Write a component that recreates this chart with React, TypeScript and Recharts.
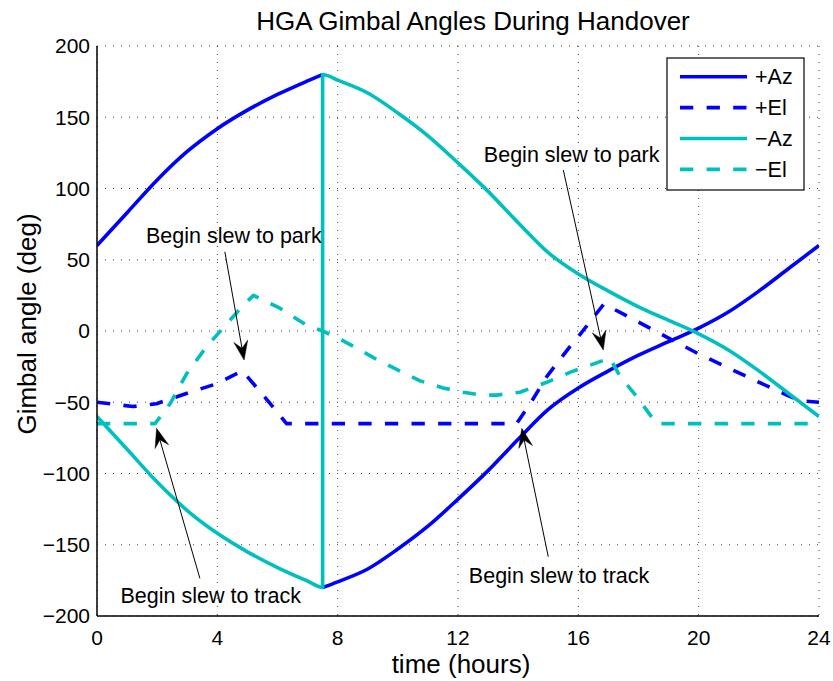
import React from 'react';
import { LineChart, Line, XAxis, YAxis, CartesianGrid, ReferenceLine, ReferenceDot } from 'recharts';

// ---- data (hours, degrees) ----
const azPlusHours = [0, 1, 2, 3, 4, 5, 6, 7, 7.5, 7.5, 7.5, 8, 9, 10, 11, 12, 13, 14, 15, 16, 17, 18, 19, 20, 21, 22, 23, 24];
const azPlusDeg = [60, 83, 106, 126, 142, 155, 166, 175.5, 180, null, -180, -176, -167, -153, -137, -118, -98, -76, -55, -40, -28, -17, -7.5, 2, 13.5, 28, 44, 60];

const elPlusHours = [0, 1.2, 1.98, 3.09, 3.98, 4.83, 5.2, 5.8, 6.3, 13.95, 14.4, 14.95, 15.72, 16.0, 16.85, 18.38, 19.99, 21.6, 22.93, 23.4, 24];
const elPlusDeg = [-50, -53, -51, -43, -37, -28, -37, -52, -65, -65, -51, -32, -11, -4, 19, 2, -16, -32, -45, -49, -50];

const azMinusHours = [0, 1, 2, 3, 4, 5, 6, 7, 7.5, 7.5, 8, 9, 10, 11, 12, 13, 14, 15, 16, 17, 18, 19, 20, 21, 22, 23, 24];
const azMinusDeg = [-60, -83, -106, -126, -142, -155, -166, -175.5, -180, 180, 176, 167, 153, 137, 118, 98, 76, 55, 40, 28, 17, 7.5, -2, -13.5, -28, -44, -60];

const elMinusHours = [0, 1.93, 2.43, 2.98, 3.64, 4.31, 4.86, 5.2, 6.08, 6.97, 7.5, 8.1, 8.63, 9.3, 9.96, 10.74, 11.51, 12.18, 12.8, 13.28, 14.06, 14.95, 15.72, 16.39, 17.05, 17.39, 17.94, 18.6, 24];
const elMinusDeg = [-65, -65, -51, -30, -11, 5, 18, 25, 16, 4, 0, -6, -12, -20, -27, -35, -40, -43, -45, -45, -43, -36, -29, -24, -19, -32, -46, -65, -65];

const xTicks = [0, 4, 8, 12, 16, 20, 24];
const yTicks = [-200, -150, -100, -50, 0, 50, 100, 150, 200];

const seriesNames = ['+Az', '+El', '\u2212Az', '\u2212El'];
const seriesColors = ['#0000ff', '#0000ff', '#00bfbf', '#00bfbf'];
const seriesDashed = [false, true, false, true];
const seriesCurve = ['monotoneX', 'linear', 'monotoneX', 'linear'];

// annotations: text anchor (hours, deg), arrow start, arrow tip
const annotationTexts = ['Begin slew to park', 'Begin slew to track', 'Begin slew to park', 'Begin slew to track'];
const annotationTextPos = [[4.55, 61.5], [3.78, -191.1], [15.78, 118.8], [15.36, -176.6]];
const annotationFrom = [[4.25, 55.6], [3.42, -173.6], [15.5, 113], [15.0, -158.4]];
const annotationTo = [[4.89, -20.4], [1.98, -68.3], [16.83, -13.3], [14.12, -68.3]];

const FONT = '"Liberation Sans", Arial, Helvetica, sans-serif';

const toPoints = (xs: number[], ys: (number | null)[]) => xs.map((x, i) => ({ x, y: ys[i] }));
const seriesData = [
  toPoints(azPlusHours, azPlusDeg),
  toPoints(elPlusHours, elPlusDeg),
  toPoints(azMinusHours, azMinusDeg),
  toPoints(elMinusHours, elMinusDeg),
];

const DASH = '13.3 13.3';

const Arrow = (props: any) => {
  const { x1, y1, x2, y2 } = props;
  const dx = x2 - x1;
  const dy = y2 - y1;
  const len = Math.hypot(dx, dy) || 1;
  const ux = dx / len;
  const uy = dy / len;
  const hl = 19;
  const hw = 7;
  const notch = 12;
  const bx = x2 - ux * hl;
  const by = y2 - uy * hl;
  const nx = -uy;
  const ny = ux;
  const pts = [
    [x2, y2],
    [bx + nx * hw, by + ny * hw],
    [x2 - ux * notch, y2 - uy * notch],
    [bx - nx * hw, by - ny * hw],
  ]
    .map((p) => p.join(','))
    .join(' ');
  return (
    <g>
      <line x1={x1} y1={y1} x2={x2 - ux * notch} y2={y2 - uy * notch} stroke="#000" strokeWidth={1} />
      <polygon points={pts} fill="#000" stroke="#000" strokeWidth={0.5} />
    </g>
  );
};

const makeTextShape = (txt: string) => (props: any) => (
  <text x={props.cx} y={props.cy} textAnchor="middle" fontFamily={FONT} fontSize={21.5} fill="#000">
    {txt}
  </text>
);

const fmtY = (v: number) => (v < 0 ? '\u2212' + Math.abs(v) : String(v));

export default function App() {
  return (
    <div style={{ position: 'absolute', left: 0, top: 0, width: 833, height: 681, background: '#fff' }}>
      <LineChart width={833} height={681} margin={{ top: 46, right: 14, bottom: 25, left: 37 }} style={{ fontFamily: FONT }}>
        <CartesianGrid stroke="#000" strokeDasharray="1 7" strokeWidth={1} strokeOpacity={0.75} />
        <XAxis
          type="number"
          dataKey="x"
          domain={[0, 24]}
          ticks={xTicks}
          allowDataOverflow
          tickLine={false}
          tickSize={0}
          tickMargin={14}
          height={40}
          axisLine={{ stroke: '#000', strokeWidth: 1.5 }}
          tick={{ fill: '#000', fontSize: 21, fontFamily: FONT }}
        />
        <XAxis
          xAxisId="bm"
          type="number"
          dataKey="x"
          domain={[0, 24]}
          ticks={xTicks}
          allowDataOverflow
          orientation="bottom"
          mirror
          height={0}
          tick={false}
          tickSize={7}
          tickLine={{ stroke: '#000', strokeWidth: 1 }}
          axisLine={false}
        />
        <XAxis
          xAxisId="top"
          type="number"
          dataKey="x"
          domain={[0, 24]}
          ticks={xTicks}
          allowDataOverflow
          orientation="top"
          mirror
          height={0}
          tick={false}
          tickSize={7}
          tickLine={{ stroke: '#000', strokeWidth: 1 }}
          axisLine={{ stroke: '#000', strokeWidth: 1.5 }}
        />
        <YAxis
          type="number"
          domain={[-200, 200]}
          ticks={yTicks}
          allowDataOverflow
          tickLine={false}
          tickSize={0}
          tickMargin={7}
          width={60}
          tickFormatter={fmtY}
          axisLine={{ stroke: '#000', strokeWidth: 1.5 }}
          tick={{ fill: '#000', fontSize: 21, fontFamily: FONT }}
        />
        <YAxis
          yAxisId="lm"
          type="number"
          domain={[-200, 200]}
          ticks={yTicks}
          allowDataOverflow
          orientation="left"
          mirror
          width={0}
          tick={false}
          tickSize={7}
          tickLine={{ stroke: '#000', strokeWidth: 1 }}
          axisLine={false}
        />
        <YAxis
          yAxisId="rm"
          type="number"
          domain={[-200, 200]}
          ticks={yTicks}
          allowDataOverflow
          orientation="right"
          mirror
          width={0}
          tick={false}
          tickSize={7}
          tickLine={{ stroke: '#000', strokeWidth: 1 }}
          axisLine={{ stroke: '#000', strokeWidth: 1.5 }}
        />
        {seriesData.map((d, i) => (
          <Line
            key={seriesNames[i]}
            data={d}
            dataKey="y"
            name={seriesNames[i]}
            type={seriesCurve[i] as any}
            stroke={seriesColors[i]}
            strokeWidth={3.6}
            strokeDasharray={seriesDashed[i] ? DASH : undefined}
            strokeLinejoin="round"
            dot={false}
            activeDot={false}
            connectNulls={false}
            isAnimationActive={false}
          />
        ))}
        {annotationTexts.map((t, i) => (
          <ReferenceLine
            key={'arr' + i}
            segment={[
              { x: annotationFrom[i][0], y: annotationFrom[i][1] },
              { x: annotationTo[i][0], y: annotationTo[i][1] },
            ]}
            stroke="#000"
            shape={Arrow}
          />
        ))}
        {annotationTexts.map((t, i) => (
          <ReferenceDot
            key={'txt' + i}
            x={annotationTextPos[i][0]}
            y={annotationTextPos[i][1]}
            r={1}
            shape={makeTextShape(t)}
          />
        ))}
      </LineChart>
      <svg width={833} height={681} style={{ position: 'absolute', left: 0, top: 0, pointerEvents: 'none' }}>
        <text x={473} y={30} textAnchor="middle" fontFamily={FONT} fontSize={26} fill="#000">
          HGA Gimbal Angles During Handover
        </text>
        <text x={461} y={673} textAnchor="middle" fontFamily={FONT} fontSize={26} fill="#000">
          time (hours)
        </text>
        <text transform="translate(36,324) rotate(-90)" textAnchor="middle" fontFamily={FONT} fontSize={26} fill="#000">
          Gimbal angle (deg)
        </text>
        <g>
          <rect x={667} y={58} width={137} height={132} fill="#fff" stroke="#000" strokeWidth={1.2} />
          {seriesNames.map((n, i) => {
            const cy = 76.7 + i * 30.9;
            return (
              <g key={n}>
                <line
                  x1={680}
                  x2={747}
                  y1={cy}
                  y2={cy}
                  stroke={seriesColors[i]}
                  strokeWidth={3.6}
                  strokeDasharray={seriesDashed[i] ? DASH : undefined}
                />
                <text x={755} y={cy + 7.5} fontFamily={FONT} fontSize={21.5} fill="#000">
                  {n}
                </text>
              </g>
            );
          })}
        </g>
      </svg>
    </div>
  );
}
